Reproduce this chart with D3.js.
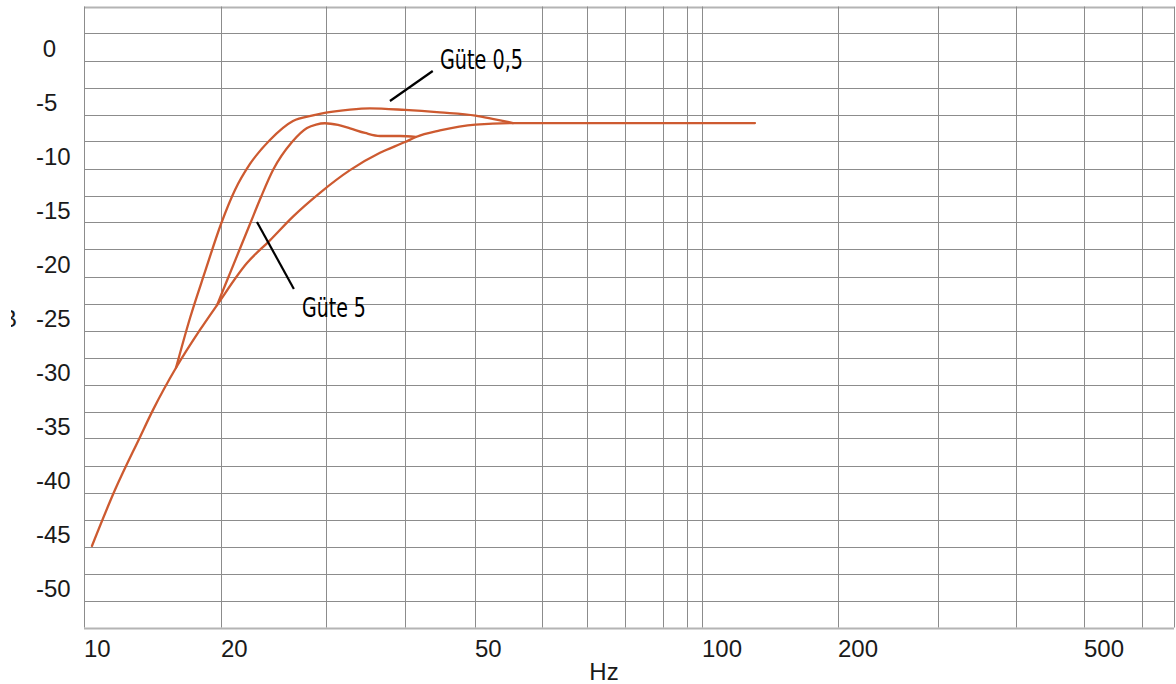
<!DOCTYPE html>
<html><head><meta charset="utf-8">
<script src="https://cdn.jsdelivr.net/npm/d3@7/dist/d3.min.js"></script>
<style>
body{margin:0;background:#fff}
svg{display:block}
text{white-space:pre}
</style>
</head><body>
<svg id="chart" width="1176" height="684"></svg>
<script>
// ---------- data ----------
const xGridHz = [10,20,30,40,50,60,70,80,90,95,100,200,300,400,500,600];
const xTickLabels = [10,20,50,100,200,500];
const yGridDb = [3.75,1.25,-1.25,-3.75,-6.25,-8.75,-11.25,-13.75,-16.25,-18.75,-21.25,-23.75,
                 -26.25,-28.75,-31.25,-33.75,-36.25,-38.75,-41.25,-43.75,-46.25,-48.75,-51.25,-53.75];
const yTickLabels = [0,-5,-10,-15,-20,-25,-30,-35,-40,-45,-50];
const xAxisTitle = "Hz";
const yAxisTitle = "dB";

// [Hz, dB]
const seriesLow = [[10.41,-46.2],[11.70,-41.0],[13.28,-36.1],[14.18,-33.6],[15.93,-29.7],
  [17.98,-26.2],[19.6,-23.9],[22.11,-20.0],[24.16,-17.9],[26.41,-15.7],[29.31,-13.5],
  [32.74,-11.4],[36.52,-9.8],[40.0,-8.8],[41.43,-8.33],[44.72,-7.73],[50.07,-7.18],
  [55.45,-7.04],[131.0,-7.04]];
const seriesTop = [[10.41,-46.2],[11.70,-41.0],[13.28,-36.1],[14.18,-33.6],[15.93,-29.7],
  [17.10,-25.09],[18.44,-20.83],[20.0,-16.39],[21.11,-13.24],[22.37,-10.83],[24.16,-8.61],
  [26.41,-6.85],[28.53,-6.34],[30.0,-6.08],[32.74,-5.79],[35.21,-5.68],[40.0,-5.83],
  [44.72,-6.06],[50.07,-6.36],[52.8,-6.71],[55.45,-7.04],[131.0,-7.04]];
const seriesMid = [[10.41,-46.2],[11.70,-41.0],[13.28,-36.1],[14.18,-33.6],[15.93,-29.7],
  [17.98,-26.2],[19.6,-23.9],[20.55,-21.39],[21.44,-18.89],[22.37,-16.39],[23.34,-13.89],
  [24.45,-11.39],[26.31,-8.8],[27.88,-7.5],[28.87,-7.18],[29.88,-7.06],[31.34,-7.22],
  [32.74,-7.53],[34.58,-7.96],[36.52,-8.24],[39.28,-8.24],[41.43,-8.33],[44.72,-7.73],
  [50.07,-7.18],[55.45,-7.04],[131.0,-7.04]];

const annotationLabels = ["Güte 0,5","Güte 5"];
const annotationText = [[44.72,-2.04],[27.34,-25.0]];      // [Hz, dB] of text baseline start
const annotationLine = [[[37.87,-5.0],[43.7,-2.22]],[[22.98,-16.2],[26.5,-22.4]]];

// ---------- layout ----------
const xEndHz = 660;
const xRangePx = [84,221,326,405,475,542,587,625,663,687,702,838,938,1016,1084,1142,1174];
const yRangePx = [6.5,627.5];
const curveColor = "#cd5a30";
const gridColor = "#8c8c8c";
const labelFont = "'Liberation Sans', Arial, sans-serif";
const noteWidths = [83, 64];

const svg = d3.select("#chart");
svg.append("rect").attr("width",1176).attr("height",684).attr("fill","#fff");

const x = d3.scaleLog().domain([...xGridHz, xEndHz]).range(xRangePx);
const y = d3.scaleLinear().domain([yGridDb[0], yGridDb[yGridDb.length-1]]).range(yRangePx);

const x0 = x(10), x1 = x(xEndHz);
const yTop = y(yGridDb[0]), yBot = y(yGridDb[yGridDb.length-1]);

// horizontal grid
svg.append("g").selectAll("line").data(yGridDb).join("line")
  .attr("x1", x0).attr("x2", x1)
  .attr("y1", d => Math.round(y(d)) + 0.5).attr("y2", d => Math.round(y(d)) + 0.5)
  .attr("stroke", (d,i) => (i===0 || i===yGridDb.length-1) ? "#b4b4b4" : gridColor)
  .attr("stroke-width", (d,i) => (i===0 || i===yGridDb.length-1) ? 2 : 1);

// vertical grid
svg.append("g").selectAll("line").data([...xGridHz, xEndHz]).join("line")
  .attr("x1", d => Math.round(x(d)) + 0.5).attr("x2", d => Math.round(x(d)) + 0.5)
  .attr("y1", yTop).attr("y2", yBot)
  .attr("stroke", gridColor).attr("stroke-width", 1);

// y labels (zero carries a leading space, as in the reference)
svg.append("g").selectAll("text").data(yTickLabels).join("text")
  .attr("x", 36).attr("y", d => y(d) + 9.5)
  .attr("font-family", labelFont)
  .attr("font-size", 24).attr("fill", "#1a1a1a")
  .text(d => d === 0 ? " 0" : String(d));

// x labels
svg.append("g").selectAll("text").data(xTickLabels).join("text")
  .attr("x", d => x(d)).attr("y", 657)
  .attr("font-family", labelFont)
  .attr("font-size", 24).attr("fill", "#1a1a1a")
  .text(d => d);

svg.append("text").attr("x", 604).attr("y", 680).attr("text-anchor","middle")
  .attr("font-family", labelFont)
  .attr("font-size", 24).attr("fill", "#1a1a1a").text(xAxisTitle);

// clipped y title (only its edge is visible in the reference)
svg.append("clipPath").attr("id","yclip").append("rect")
  .attr("x", 11).attr("y", 290).attr("width", 10).attr("height", 50);
svg.append("text").attr("x", 17).attr("y", 327).attr("text-anchor","end")
  .attr("clip-path","url(#yclip)")
  .attr("font-family", labelFont)
  .attr("font-size", 24).attr("fill", "#1a1a1a").text(yAxisTitle);

// curves: the base curve in full, the other series only where they branch off it
const same = (a,b) => a[0]===b[0] && a[1]===b[1];
function branchPart(s, base){
  let i = 0;
  while (i < s.length && i < base.length && same(s[i], base[i])) i++;
  let j = s.length - 1, k = base.length - 1;
  while (j > i && k >= 0 && same(s[j], base[k])) { j--; k--; }
  return s.slice(Math.max(0, i-1), Math.min(s.length, j+2));
}
const line = d3.line().x(d => x(d[0])).y(d => y(d[1])).curve(d3.curveMonotoneX);
const parts = [seriesLow, branchPart(seriesMid, seriesLow), branchPart(seriesTop, seriesLow)];
svg.append("g").selectAll("path").data(parts).join("path")
  .attr("d", line).attr("fill","none")
  .attr("stroke", curveColor).attr("stroke-width", 2.3)
  .attr("stroke-linejoin","round").attr("stroke-linecap","round");

// annotations
svg.append("g").selectAll("line").data(annotationLine).join("line")
  .attr("x1", d => x(d[0][0])).attr("y1", d => y(d[0][1]))
  .attr("x2", d => x(d[1][0])).attr("y2", d => y(d[1][1]))
  .attr("stroke", "#000").attr("stroke-width", 2.2);

svg.append("g").selectAll("text").data(annotationLabels).join("text")
  .attr("x", (d,i) => x(annotationText[i][0])).attr("y", (d,i) => y(annotationText[i][1]))
  .attr("font-family", "'DejaVu Sans', sans-serif")
  .attr("font-stretch", "condensed")
  .attr("font-size", 26).attr("fill", "#000")
  .attr("textLength", (d,i) => noteWidths[i]).attr("lengthAdjust", "spacingAndGlyphs")
  .text(d => d);
</script>
</body></html>
